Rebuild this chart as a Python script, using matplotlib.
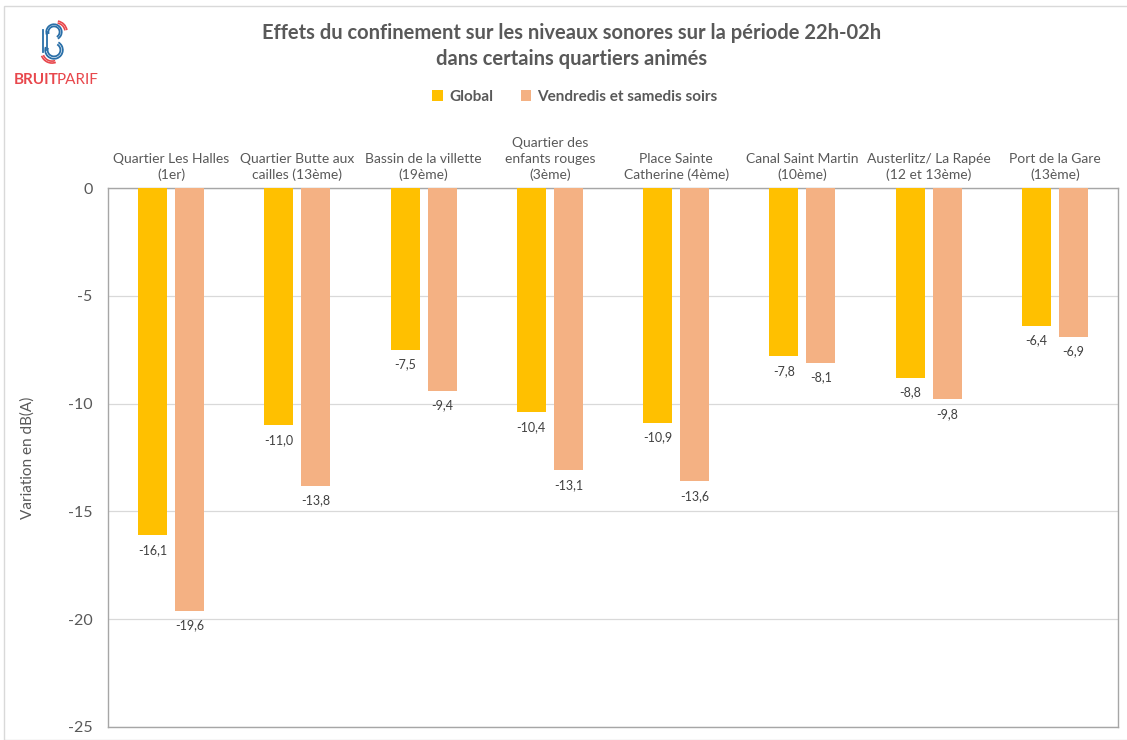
import matplotlib
matplotlib.use("Agg")
import matplotlib.pyplot as plt
import numpy as np
from matplotlib.patches import Arc, Rectangle

categories = ["Quartier Les Halles\n(1er)", "Quartier Butte aux\ncailles (13ème)",
              "Bassin de la villette\n(19ème)", "Quartier des\nenfants rouges\n(3ème)",
              "Place Sainte\nCatherine (4ème)", "Canal Saint Martin\n(10ème)",
              "Austerlitz/ La Rapée\n(12 et 13ème)", "Port de la Gare\n(13ème)"]
global_vals = [-16.1, -11.0, -7.5, -10.4, -10.9, -7.8, -8.8, -6.4]
weekend_vals = [-19.6, -13.8, -9.4, -13.1, -13.6, -8.1, -9.8, -6.9]
series_names = ["Global", "Vendredis et samedis soirs"]
yticks = [0, -5, -10, -15, -20, -25]

plt.rcParams['font.family'] = ['Lato', 'DejaVu Sans']
fig = plt.figure(figsize=(11.27, 7.40), dpi=100)
W, H = 1127, 740
ax = fig.add_axes([108 / W, 1 - 727 / H, (1118 - 108) / W, (727 - 188) / H])

x = np.arange(len(categories))
bw = 0.23
off = 0.147
c1, c2 = "#FFC000", "#F4B183"
b1 = ax.bar(x - off, global_vals, bw, color=c1, label=series_names[0], zorder=3)
b2 = ax.bar(x + off, weekend_vals, bw, color=c2, label=series_names[1], zorder=3)

for bars, vals in ((b1, global_vals), (b2, weekend_vals)):
    for b, v in zip(bars, vals):
        ax.text(b.get_x() + b.get_width() / 2, v - 0.4, f"{v:.1f}".replace(".", ","),
                ha="center", va="top", fontsize=9, color="#404040")

ax.set_xlim(-0.5, len(categories) - 0.5)
ax.set_ylim(-25, 0)
ax.set_yticks(yticks)
ax.set_yticklabels([str(t) for t in yticks], fontsize=11.5, color="#595959")
ax.tick_params(axis="y", length=0, pad=11)
ax.xaxis.tick_top()
ax.set_xticks(x)
ax.set_xticklabels(categories, fontsize=10, color="#595959", linespacing=1.35)
ax.tick_params(axis="x", length=0, pad=5)
ax.grid(axis="y", color="#D9D9D9", linewidth=0.9, zorder=0)
for s in ax.spines.values():
    s.set_color("#A6A6A6")
    s.set_linewidth(1.0)
ax.set_ylabel("Variation en dB(A)", fontsize=11, color="#595959")
ax.yaxis.set_label_coords((35 - 108) / (1118 - 108), 0.5)

fig.text(572 / W, 1 - 33 / H, "Effets du confinement sur les niveaux sonores sur la période 22h-02h",
         ha="center", va="center", fontsize=14.5, fontweight="bold", color="#595959")
fig.text(572 / W, 1 - 59 / H, "dans certains quartiers animés",
         ha="center", va="center", fontsize=14.5, fontweight="bold", color="#595959")

fig.legend(handles=[b1, b2], labels=series_names, loc="center", bbox_to_anchor=(575 / W, 1 - 97 / H),
           ncol=2, frameon=False, handlelength=0.7, handleheight=0.7,
           handletextpad=0.4, columnspacing=1.8, prop={"weight": "bold", "size": 11})
for t in fig.legends[0].get_texts():
    t.set_color("#595959")

# figure border
fig.patches.append(Rectangle((4 / W, 0), 1.2, 1 - 6 / H, transform=fig.transFigure,
                             fill=False, edgecolor="#D9D9D9", linewidth=1.0))

# logo
lax = fig.add_axes([34 / W, 1 - 68 / H, 40 / W, 52 / H])
lax.set_xlim(0, 40); lax.set_ylim(0, 52); lax.axis("off")
blue, red = "#2A6FA8", "#E8474C"
for r in (8, 11):
    lax.add_patch(Arc((20, 36), r * 1.4, r * 1.4, theta1=-60, theta2=200, color=blue, lw=1.3))
    lax.add_patch(Arc((20, 18), r * 1.6, r * 1.6, theta1=-200, theta2=60, color=blue, lw=1.3))
for r in (14, 17):
    lax.add_patch(Arc((22, 36), r * 1.3, r * 1.3, theta1=10, theta2=80, color=red, lw=1.2))
    lax.add_patch(Arc((18, 16), r * 1.3, r * 1.3, theta1=200, theta2=290, color=red, lw=1.2))
lax.plot([13, 13], [18, 36], color=blue, lw=1.3)
lax.plot([9, 9], [16, 38], color=blue, lw=1.3)
fig.text(14 / W, 1 - 80 / H, "BRUIT", ha="left", va="center", fontsize=11,
         fontweight="bold", color=red)
fig.text(57 / W, 1 - 80 / H, "PARIF", ha="left", va="center", fontsize=11, color=red)

fig.savefig("out.png", dpi=100)
